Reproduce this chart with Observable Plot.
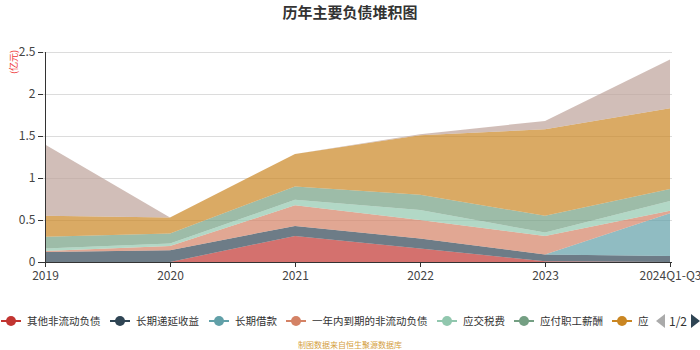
<!DOCTYPE html>
<html>
<head>
<meta charset="utf-8">
<script src="https://cdn.jsdelivr.net/npm/d3@7"></script>
<script src="https://cdn.jsdelivr.net/npm/@observablehq/plot@0.6"></script>
<style>
  html, body { margin:0; padding:0; background:#fff; }
  #wrap { position:relative; width:700px; height:350px; overflow:hidden; font-family:"Noto Sans CJK SC","Noto Sans",sans-serif; }
  #title { position:absolute; left:0; top:1px; width:700px; text-align:center; font-size:15px; font-weight:bold; color:#333; }
  #chart { position:absolute; left:0; top:0; }
  #unit { position:absolute; left:2px; top:57px; font-size:9px; line-height:10px; color:#e33; transform:rotate(-90deg); transform-origin:center; white-space:nowrap; }
  .leg { position:absolute; top:313px; height:16px; font-size:10.5px; line-height:16px; color:#333; white-space:nowrap; }
  .mk { position:absolute; left:0; top:0; width:20px; height:16px; }
  .mk .ln { position:absolute; left:0; top:7px; width:20px; height:2px; }
  .mk .dt { position:absolute; left:5px; top:3px; width:10px; height:10px; border-radius:50%; }
  .leg span { position:absolute; left:26px; top:0; }
  #cap { position:absolute; left:0; top:339px; width:700px; text-align:center; font-size:8px; line-height:11px; color:#d4a040; }
  .pg { position:absolute; }
</style>
</head>
<body>
<div id="wrap">
  <div id="chart"></div>
  <div id="title">历年主要负债堆积图</div>
  <div id="unit">(亿元)</div>
  <div id="legend"></div>
  <div id="cap">制图数据来自恒生聚源数据库</div>
</div>
<script>
const categories = ["2019", "2020", "2021", "2022", "2023", "2024Q1-Q3"];
const seriesNames = ["其他非流动负债", "长期递延收益", "长期借款", "一年内到期的非流动负债", "应交税费", "应付职工薪酬", "应付账款", "短期借款"];
const seriesColors = ["#c23531", "#2f4554", "#61a0a8", "#d48265", "#91c7ae", "#749f83", "#ca8622", "#bda29a"];

const otherNonCurrent = [0, 0, 0.31, 0.16, 0.01, 0];
const deferredIncome  = [0.12, 0.14, 0.12, 0.12, 0.08, 0.07];
const longTermLoans   = [0, 0, 0, 0, 0, 0.51];
const dueWithinYear   = [0.01, 0.05, 0.245, 0.22, 0.22, 0.03];
const taxesPayable    = [0.03, 0.03, 0.065, 0.12, 0.04, 0.115];
const payroll         = [0.14, 0.12, 0.16, 0.18, 0.20, 0.145];
const accountsPayable = [0.25, 0.19, 0.385, 0.71, 1.03, 0.96];
const shortTermLoans  = [0.85, 0, 0, 0.01, 0.10, 0.58];
const yTicks = [0, 0.5, 1, 1.5, 2, 2.5];

const seriesValues = [otherNonCurrent, deferredIncome, longTermLoans, dueWithinYear, taxesPayable, payroll, accountsPayable, shortTermLoans];
const data = [];
seriesNames.forEach((s, i) => categories.forEach((c, j) => data.push({series: s, year: c, value: seriesValues[i][j]})));

const chart = Plot.plot({
  width: 700,
  height: 290,
  marginLeft: 43,
  marginRight: 28,
  marginTop: 52,
  marginBottom: 28,
  style: {fontFamily: "'Noto Sans CJK SC','Noto Sans',sans-serif", fontSize: "12px", color: "#444", background: "transparent"},
  x: {type: "point", domain: categories, padding: 0, label: null},
  y: {domain: [0, 2.5], label: null},
  color: {domain: seriesNames, range: seriesColors},
  marks: [
    Plot.gridY(yTicks, {stroke: "#dcdcdc", strokeOpacity: 1, strokeWidth: 1}),
    Plot.areaY(data, Plot.stackY({x: "year", y: "value", z: "series", fill: "series", fillOpacity: 0.7, order: seriesNames})),
    Plot.ruleY([0], {stroke: "#333"}),
    Plot.ruleX([categories[0]], {stroke: "#333"}),
    Plot.axisY(yTicks, {tickSize: 5, tickPadding: 3, stroke: "#333", fill: "#444", fontSize: 12, tickFormat: d => String(d)}),
    Plot.axisX(categories, {tickSize: 5, tickPadding: 4, stroke: "#333", fill: "#444", fontSize: 12})
  ]
});
document.getElementById("chart").appendChild(chart);

// legend (page 1 of 2)
const legendX = [1, 110, 209, 286, 437, 514, 612];
const legendLabels = ["其他非流动负债", "长期递延收益", "长期借款", "一年内到期的非流动负债", "应交税费", "应付职工薪酬", "应"];
const legend = document.getElementById("legend");
legendLabels.forEach((lab, i) => {
  const d = document.createElement("div");
  d.className = "leg";
  d.style.left = legendX[i] + "px";
  d.innerHTML = `<div class="mk"><div class="ln" style="background:${seriesColors[i]}"></div><div class="dt" style="background:${seriesColors[i]}"></div></div><span>${lab}</span>`;
  legend.appendChild(d);
});
const pg = [
  `<div class="pg" style="left:656px;top:314px;width:0;height:0;border-top:7px solid transparent;border-bottom:7px solid transparent;border-right:9px solid #aaa"></div>`,
  `<div class="pg" style="left:669px;top:313px;font-size:12px;line-height:16px;color:#333">1/2</div>`,
  `<div class="pg" style="left:691px;top:314px;width:0;height:0;border-top:7px solid transparent;border-bottom:7px solid transparent;border-left:9px solid #2f4554"></div>`
];
legend.insertAdjacentHTML("beforeend", pg.join(""));
</script>
</body>
</html>
